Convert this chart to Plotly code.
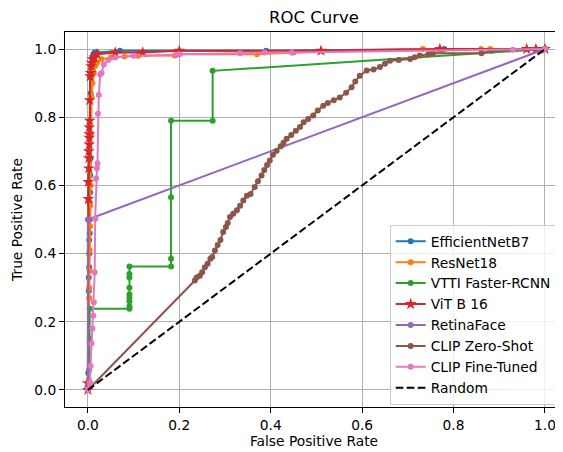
import plotly.graph_objects as go

# ---------------- data ----------------
effnet_fpr = [0.0, 0.001, 0.002, 0.002, 0.003, 0.003, 0.003, 0.004, 0.004, 0.004, 0.005, 0.005, 0.006, 0.006,
              0.008, 0.01, 0.012, 0.015, 0.02, 0.07, 0.39, 0.78, 1.0]
effnet_tpr = [0.0, 0.05, 0.29, 0.33, 0.36, 0.40, 0.44, 0.46, 0.5, 0.55, 0.58, 0.63, 0.68, 0.87,
              0.95, 0.975, 0.985, 0.99, 0.99, 0.995, 0.995, 1.0, 1.0]

resnet_fpr = [0.0, 0.002, 0.003, 0.003, 0.004, 0.004, 0.005, 0.005, 0.006, 0.007, 0.008, 0.01, 0.013, 0.016,
              0.02, 0.03, 0.05, 0.08, 0.11, 0.19, 0.2, 0.37, 0.45, 0.733, 0.86, 0.88, 1.0]
resnet_tpr = [0.0, 0.03, 0.27, 0.3, 0.35, 0.41, 0.48, 0.54, 0.6, 0.75, 0.86, 0.9, 0.93, 0.95,
              0.96, 0.97, 0.975, 0.978, 0.98, 0.981, 0.985, 0.985, 0.99, 1.0, 1.0, 1.0, 1.0]

vtti_fpr = [0.0, 0.002, 0.003, 0.004, 0.004, 0.091, 0.091, 0.091, 0.091, 0.091, 0.091, 0.091, 0.091, 0.091,
            0.182, 0.182, 0.182, 0.182, 0.273, 0.273, 1.0]
vtti_tpr = [0.0, 0.02, 0.06, 0.15, 0.238, 0.238, 0.245, 0.26, 0.27, 0.28, 0.3, 0.33, 0.34, 0.362,
            0.362, 0.385, 0.565, 0.79, 0.79, 0.936, 1.0]

vit_fpr = [0.0, 0.0, 0.001, 0.001, 0.002, 0.002, 0.002, 0.003, 0.003, 0.003, 0.003, 0.004, 0.004, 0.005,
           0.006, 0.007, 0.008, 0.01, 0.014, 0.02, 0.06, 0.12, 0.2, 0.51, 0.77, 0.96, 0.98, 1.0]
vit_tpr = [0.0, 0.02, 0.56, 0.61, 0.65, 0.68, 0.70, 0.72, 0.74, 0.75, 0.77, 0.79, 0.85, 0.92,
           0.93, 0.95, 0.96, 0.97, 0.975, 0.985, 0.99, 0.99, 0.995, 0.995, 1.0, 1.0, 1.0, 1.0]

retina_fpr = [0.0, 0.0, 1.0]
retina_tpr = [0.0, 0.5, 1.0]

clipzs_fpr = [0.0, 0.234, 0.238, 0.245, 0.25, 0.256, 0.262, 0.268, 0.272, 0.278, 0.284, 0.29, 0.296, 0.302,
              0.306, 0.311, 0.318, 0.326, 0.333, 0.34, 0.348, 0.356, 0.365, 0.372, 0.38, 0.386, 0.392, 0.398,
              0.405, 0.413, 0.422, 0.428, 0.435, 0.445, 0.455, 0.464, 0.472, 0.482, 0.493, 0.503, 0.515, 0.525,
              0.538, 0.551, 0.565, 0.577, 0.585, 0.595, 0.61, 0.625, 0.639, 0.65, 0.661, 0.68, 0.705, 0.715,
              0.726, 0.745, 0.755, 0.861, 0.883, 1.0]
clipzs_tpr = [0.0, 0.321, 0.33, 0.335, 0.345, 0.36, 0.37, 0.385, 0.39, 0.409, 0.425, 0.44, 0.463, 0.478,
              0.49, 0.507, 0.517, 0.527, 0.54, 0.556, 0.57, 0.575, 0.595, 0.612, 0.629, 0.645, 0.66, 0.673,
              0.69, 0.702, 0.715, 0.725, 0.737, 0.748, 0.76, 0.771, 0.785, 0.795, 0.805, 0.82, 0.834, 0.842,
              0.85, 0.858, 0.872, 0.888, 0.905, 0.922, 0.937, 0.94, 0.947, 0.957, 0.966, 0.968, 0.971, 0.976,
              0.981, 0.985, 0.988, 0.988, 0.995, 1.0]

clipft_fpr = [0.0, 0.004, 0.006, 0.008, 0.01, 0.012, 0.013, 0.015, 0.016, 0.018, 0.02, 0.021, 0.022, 0.024,
              0.027, 0.03, 0.035, 0.045, 0.06, 0.1, 0.195, 0.2, 0.333, 0.387, 0.446, 0.93, 1.0]
clipft_tpr = [0.0, 0.02, 0.07, 0.136, 0.18, 0.218, 0.257, 0.345, 0.502, 0.62, 0.65, 0.665, 0.81, 0.865,
              0.925, 0.93, 0.955, 0.968, 0.975, 0.98, 0.983, 0.985, 0.988, 0.99, 0.99, 0.998, 1.0]

random_fpr = [0.0, 1.0]
random_tpr = [0.0, 1.0]

x_ticks = [0.0, 0.2, 0.4, 0.6, 0.8, 1.0]
y_ticks = [0.0, 0.2, 0.4, 0.6, 0.8, 1.0]
tick_labels = ["0.0", "0.2", "0.4", "0.6", "0.8", "1.0"]

# ---------------- figure ----------------
FONT = "DejaVu Sans"
series = [
    ("EfficientNetB7", effnet_fpr, effnet_tpr, "#1f77b4", "circle", 6),
    ("ResNet18", resnet_fpr, resnet_tpr, "#ff7f0e", "circle", 6),
    ("VTTI Faster-RCNN", vtti_fpr, vtti_tpr, "#2ca02c", "circle", 6),
    ("ViT B 16", vit_fpr, vit_tpr, "#d62728", "star", 9),
    ("RetinaFace", retina_fpr, retina_tpr, "#9467bd", "circle", 6),
    ("CLIP Zero-Shot", clipzs_fpr, clipzs_tpr, "#8c564b", "circle", 6),
    ("CLIP Fine-Tuned", clipft_fpr, clipft_tpr, "#e377c2", "circle", 6),
]

fig = go.Figure()
for name, xs, ys, col, sym, sz in series:
    fig.add_trace(go.Scatter(
        x=xs, y=ys, mode="lines+markers", name=name,
        line=dict(color=col, width=2),
        marker=dict(color=col, symbol=sym, size=sz, line=dict(width=0)),
    ))
fig.add_trace(go.Scatter(
    x=random_fpr, y=random_tpr, mode="lines", name="Random",
    line=dict(color="black", width=2, dash="7.7px,3.3px"),
))

# page body adds an 8px offset; figure is sized to fill the rest of the window
W, H = 555, 444
fig.update_layout(
    width=W, height=H,
    margin=dict(l=57, r=0, t=24, b=45, autoexpand=False),
    paper_bgcolor="white", plot_bgcolor="white",
    font=dict(family=FONT, size=13.8, color="black"),
    title=dict(text="ROC Curve", x=0.5, xref="paper", xanchor="center",
               y=1 - 9 / H, yref="container", yanchor="middle", automargin=False,
               font=dict(family=FONT, size=16.5, color="black")),
    showlegend=True,
    legend=dict(x=0.652, y=0.486, xanchor="left", yanchor="top",
                bgcolor="rgba(255,255,255,0.8)", bordercolor="#cccccc", borderwidth=1,
                font=dict(family=FONT, size=13.8, color="black"),
                tracegroupgap=0),
)
fig.update_xaxes(
    range=[-0.05, 1.0394], tickvals=x_ticks, ticktext=tick_labels, automargin=False,
    showgrid=True, gridcolor="#b0b0b0", gridwidth=1, zeroline=False,
    showline=True, linecolor="black", linewidth=1, mirror=True,
    ticks="outside", ticklen=5, tickcolor="black", tickwidth=1,
    title=dict(text="False Positive Rate", standoff=4, font=dict(family=FONT, size=13.8)),
)
fig.update_yaxes(
    range=[-0.05, 1.05], tickvals=y_ticks, ticktext=tick_labels, automargin=False,
    showgrid=True, gridcolor="#b0b0b0", gridwidth=1, zeroline=False,
    showline=True, linecolor="black", linewidth=1, mirror=True,
    ticks="outside", ticklen=5, tickcolor="black", tickwidth=1,
    title=dict(text="True Positive Rate", standoff=8, font=dict(family=FONT, size=13.8)),
)

fig.write_html("out.html")
